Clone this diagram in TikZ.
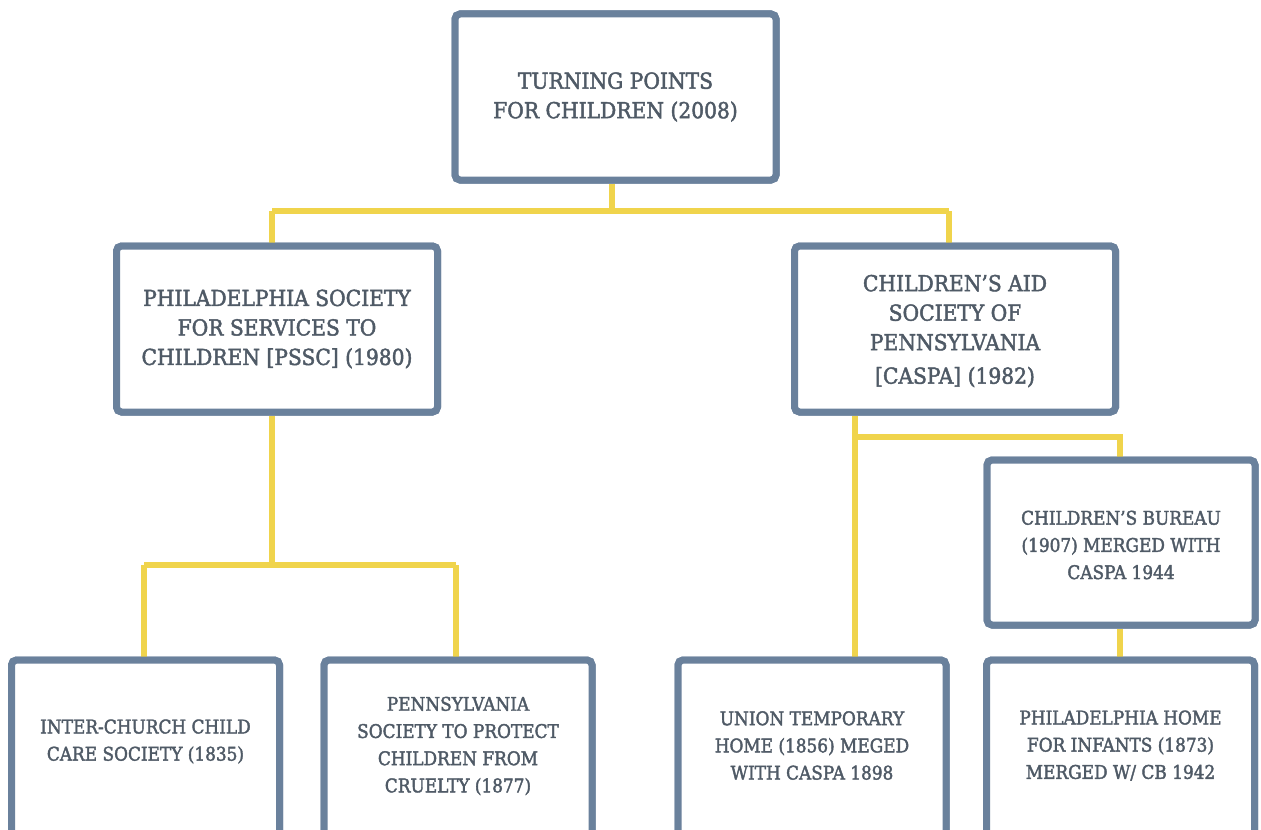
\documentclass[tikz,border=0pt]{standalone}
\usepackage{fontspec}
\setmainfont[FakeStretch=0.92,FakeBold=2]{DejaVu Serif}
\newfontfamily\smallf[FakeStretch=0.9,FakeBold=2]{DejaVu Serif}
\definecolor{boxc}{HTML}{6A819C}
\definecolor{linec}{HTML}{F0D44C}
\definecolor{txtc}{HTML}{4F5A66}
\tikzset{
  box/.style={draw=boxc, line width=3.5pt, rounded corners=2.5pt, fill=white, inner sep=0pt},
  bigbox/.style={box, minimum width=160.5pt, minimum height=83pt},
  smallbox/.style={box, minimum width=134pt, minimum height=82.5pt},
  lowbox/.style={box, minimum width=134pt, minimum height=88pt},
  bigtxt/.style={text=txtc, align=center, font=\fontsize{11}{14.75}\selectfont},
  smalltxt/.style={text=txtc, align=center, font=\smallf\fontsize{9.4}{13.6}\selectfont},
  conn/.style={draw=linec, line width=3pt}
}
\begin{document}
\begin{tikzpicture}[x=0.5pt,y=-0.5pt]
\useasboundingbox (0,0) rectangle (1261,829);
\clip (0,0) rectangle (1261,829);
% junction coordinates
\coordinate (j1) at (612,211);
\coordinate (a1) at (272,211);
\coordinate (a2) at (949,211);
\coordinate (j2) at (272,565);
\coordinate (b1) at (144,565);
\coordinate (b2) at (456,565);
\coordinate (j3) at (855,437);
\coordinate (c1) at (1120,437);
% box placement
\node[bigbox] (top) at (615.5,97) {};
\node[bigbox] (pssc) at (277,329) {};
\node[bigbox] (caspa) at (955,329) {};
\node[smallbox] (bur) at (1121,542.5) {};
\node[lowbox] (inter) at (145.5,748) {};
\node[lowbox] (penn) at (458,748) {};
\node[lowbox] (union) at (812,748) {};
\node[lowbox] (home) at (1120.5,748) {};
% connectors
\draw[conn] (j1 |- top.south) -- (j1);
\draw[conn] (a1) -- (j1) -- (a2);
\draw[conn] (a1) -- (a1 |- pssc.north);
\draw[conn] (a2) -- (a2 |- caspa.north);
\draw[conn] (j2 |- pssc.south) -- (j2);
\draw[conn] (b1) -- (b2);
\draw[conn] (b1) -- (b1 |- inter.north);
\draw[conn] (b2) -- (b2 |- penn.north);
\draw[conn] (j3 |- caspa.south) -- (j3 |- union.north);
\draw[conn] (j3) -- (c1) -- (c1 |- bur.north);
\draw[conn] (c1 |- bur.south) -- (c1 |- home.north);
% boxes drawn over connector ends
\node[bigbox] at (top) {};
\node[bigbox] at (pssc) {};
\node[bigbox] at (caspa) {};
\node[smallbox] at (bur) {};
\node[lowbox] at (inter) {};
\node[lowbox] at (penn) {};
\node[lowbox] at (union) {};
\node[lowbox] at (home) {};
% texts
\node[bigtxt] (ttop) at (615.5,97) {TURNING POINTS\\FOR CHILDREN (2008)};
\node[bigtxt] (tpssc) at (277,329) {PHILADELPHIA SOCIETY\\FOR SERVICES TO\\CHILDREN [PSSC] (1980)};
\node[bigtxt] (tcaspa) at (955,331) {CHILDREN’S AID\\SOCIETY OF\\PENNSYLVANIA\\[2pt][CASPA] (1982)};
\node[smalltxt] (tbur) at (1121,545) {CHILDREN’S BUREAU\\(1907) MERGED WITH\\CASPA 1944};
\node[smalltxt] (tinter) at (145.5,741.5) {INTER-CHURCH CHILD\\CARE SOCIETY (1835)};
\node[smalltxt] (tpenn) at (458,746) {PENNSYLVANIA\\SOCIETY TO PROTECT\\CHILDREN FROM\\CRUELTY (1877)};
\node[smalltxt] (tunion) at (812,745.5) {UNION TEMPORARY\\HOME (1856) MEGED\\WITH CASPA 1898};
\node[smalltxt] (thome) at (1120.5,745.5) {PHILADELPHIA HOME\\FOR INFANTS (1873)\\MERGED W/ CB 1942};
\end{tikzpicture}
\end{document}
